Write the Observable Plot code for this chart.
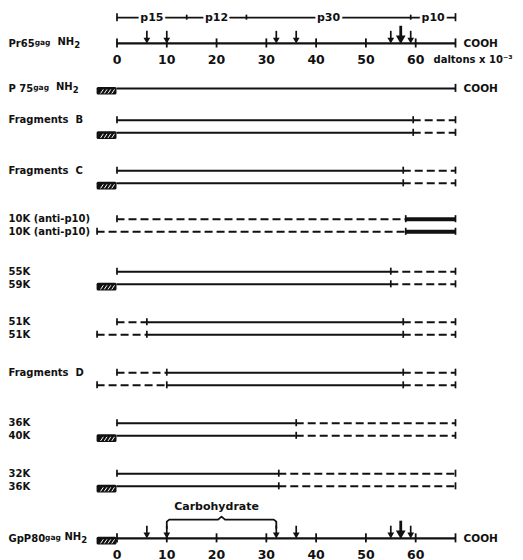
<!DOCTYPE html>
<html><head><meta charset="utf-8">
<script src="https://cdn.jsdelivr.net/npm/d3@7"></script>
<script src="https://cdn.jsdelivr.net/npm/@observablehq/plot@0.6"></script>
<style>
body{margin:0;background:#fff}
svg{display:block}
svg text{white-space:pre}
</style>
</head><body><div id="chart"></div>
<script>
// ---------------- DATA ----------------
const proteinEnd = 68;            // COOH terminus (kDa)
const leaderStart = -4;           // N-terminal leader of glycosylated species
const segmentNames = ["p15", "p12", "p30", "p10"];
const segmentBounds = [0, 14, 26, 59, 68];
const axisTicks = [0, 10, 20, 30, 40, 50, 60];
const axisTickLabels = ["0", "10", "20", "30", "40", "50", "60"];
const cleavageSites = [6, 10, 32, 36, 55, 59];
const majorCleavage = 57;
const carbohydrateRange = [10, 32];

const topLabel = "Pr65^gag^  NH_2_";
const p75Label = "P 75^gag^  NH_2_";
const gp80Label = "GpP80^gag^ NH_2_";
const unitsLabel = "daltons x 10⁻³";
const carbohydrateLabel = "Carbohydrate";
const cterm = "COOH";

const lineLabels = [
  ["Fragments  B", ""],
  ["Fragments  C", ""],
  ["10K (anti-p10)", "10K (anti-p10)"],
  ["55K", "59K"],
  ["51K", "51K"],
  ["Fragments  D", ""],
  ["36K", "40K"],
  ["32K", "36K"]
];
const lineStarts = [[0, 0], [0, 0], [0, -4], [0, 0], [0, -4], [0, -4], [0, 0], [0, 0]];
const hasLeader = [[false, true], [false, true], [false, false], [false, true], [false, false], [false, false], [false, true], [false, true]];
const breakPoints = [[59.5], [57.5], [58], [55], [6, 57.5], [10, 57.5], [36], [32.5]];
const pieceStyles = [
  ["solid", "dashed"], ["solid", "dashed"], ["dashed", "thick"], ["solid", "dashed"],
  ["dashed", "solid", "dashed"], ["dashed", "solid", "dashed"], ["solid", "dashed"], ["solid", "dashed"]
];

// ---------------- LAYOUT (row units) ----------------
const rowSeg = -0.03, rowPr65 = 0.48, rowP75 = 1.37, rowGp80 = 10.28;
const groupRow = g => 2 + g + (g === 2 ? -0.04 : 0);
const pairGap = 0.25;
const labelX = -21.8;

// ---------------- BUILD ----------------
const pieces = [], ticks = [], boxes = [], labels = [];
lineLabels.forEach((pair, g) => {
  [0, 1].forEach(k => {
    const y = groupRow(g) + k * pairGap;
    const bounds = [lineStarts[g][k], ...breakPoints[g], proteinEnd];
    pieceStyles[g].forEach((style, i) => pieces.push({x1: bounds[i], x2: bounds[i + 1], y, style}));
    bounds.forEach((b, i) => { if (!(i === 0 && hasLeader[g][k])) ticks.push({x: b, y}); });
    if (hasLeader[g][k]) boxes.push({y});
    if (pair[k]) labels.push({text: pair[k], y});
  });
});
boxes.push({y: rowP75}, {y: rowGp80});
labels.push({text: topLabel, y: rowPr65}, {text: p75Label, y: rowP75}, {text: gp80Label, y: rowGp80});

const axes = [rowPr65, rowGp80];
const axisTickData = axes.flatMap(y => [...axisTicks, proteinEnd].map(x => ({x, y})));
const tickLabelData = axes.flatMap(y => axisTicks.map((x, i) => ({x, y, t: axisTickLabels[i]})));
const arrowData = axes.flatMap(y => cleavageSites.map(x => ({x, y})));
const bigArrowData = axes.map(y => ({x: majorCleavage, y}));
const hatch = boxes.flatMap(b => [0, 1, 2, 3].map(i => ({x1: -3.3 + i * 0.75, x2: -2.75 + i * 0.75, y: b.y})));
const segTicks = segmentBounds.map((x, i) => ({x, end: i === 0 || i === segmentBounds.length - 1}));
const segLabels = segmentNames.map((t, i) => ({t, x: (segmentBounds[i] + segmentBounds[i + 1]) / 2}));

// carbohydrate brace path
const [c0, c1] = carbohydrateRange, cm = (c0 + c1) / 2;
const bTop = rowGp80 - 0.37, legBot = rowGp80 - 0.2;
const brace = [
  {x: c0, y: legBot}, {x: c0, y: bTop + 0.04}, {x: c0 + 0.5, y: bTop}, {x: cm - 0.7, y: bTop},
  {x: cm, y: bTop - 0.06}, {x: cm + 0.7, y: bTop}, {x: c1 - 0.5, y: bTop}, {x: c1, y: bTop + 0.04}, {x: c1, y: legBot}
];

const ink = "#111";
const font = {fontFamily: "'DejaVu Sans', sans-serif", fontWeight: "bold"};

const chart = Plot.plot({
  width: 523, height: 560,
  margin: 0,
  x: {domain: [0, proteinEnd], range: [116.5, 455], axis: null},
  y: {domain: [0, 10], range: [18.7, 523.7], axis: null},
  style: {background: "#fff", fontFamily: "'DejaVu Sans', sans-serif"},
  marks: [
    // segment bracket row
    Plot.ruleY([rowSeg], {x1: 0, x2: proteinEnd, stroke: ink, strokeWidth: 1.7}),
    Plot.ruleX(segTicks, {x: "x", y1: d => rowSeg - (d.end ? 0.08 : 0.05), y2: d => rowSeg + (d.end ? 0.08 : 0.05), stroke: ink, strokeWidth: 1.7}),
    Plot.text(segLabels, {x: "x", y: rowSeg, text: "t", fill: ink, stroke: "white", strokeWidth: 5, fontSize: 11, ...font}),

    // axes (Pr65 & GpP80) and P75
    Plot.ruleY(axes, {x1: 0, x2: proteinEnd, stroke: ink, strokeWidth: 2.2}),
    Plot.ruleY([rowP75], {x1: 0, x2: proteinEnd, stroke: ink, strokeWidth: 2}),
    Plot.ruleX([proteinEnd], {y1: rowP75 - 0.08, y2: rowP75 + 0.08, stroke: ink, strokeWidth: 1.8}),
    Plot.ruleX(axisTickData, {x: "x", y1: d => d.y - 0.09, y2: d => d.y + 0.09, stroke: ink, strokeWidth: 1.8}),
    Plot.text(tickLabelData, {x: "x", y: d => d.y + 0.32, text: "t", fill: ink, fontSize: 12.5, ...font}),
    Plot.text([unitsLabel], {x: proteinEnd, y: rowPr65 + 0.32, dx: -22, text: d => d, textAnchor: "start", fill: ink, fontSize: 10, ...font}),

    // cleavage arrows
    Plot.ruleX(arrowData, {x: "x", y1: d => d.y - 0.24, y2: d => d.y - 0.08, stroke: ink, strokeWidth: 1.7}),
    Plot.dot(arrowData, {x: "x", y: d => d.y - 0.075, symbol: "triangle", rotate: 180, r: 2.5, fill: ink}),
    Plot.ruleX(bigArrowData, {x: "x", y1: d => d.y - 0.34, y2: d => d.y - 0.12, stroke: ink, strokeWidth: 2.8}),
    Plot.dot(bigArrowData, {x: "x", y: d => d.y - 0.1, symbol: "triangle", rotate: 180, r: 3.6, fill: ink}),

    // carbohydrate brace
    Plot.line(brace, {x: "x", y: "y", stroke: ink, strokeWidth: 1.8, curve: "linear"}),
    Plot.text([carbohydrateLabel], {x: cm - 1, y: bTop - 0.26, text: d => d, fill: ink, fontSize: 11, ...font}),

    // fragment lines
    Plot.ruleY(pieces.filter(d => d.style === "solid"), {x1: "x1", x2: "x2", y: "y", stroke: ink, strokeWidth: 2}),
    Plot.ruleY(pieces.filter(d => d.style === "dashed"), {x1: "x1", x2: "x2", y: "y", stroke: ink, strokeWidth: 2, strokeDasharray: "8,4"}),
    Plot.ruleY(pieces.filter(d => d.style === "thick"), {x1: "x1", x2: "x2", y: "y", stroke: ink, strokeWidth: 4}),
    Plot.ruleX(ticks, {x: "x", y1: d => d.y - 0.07, y2: d => d.y + 0.07, stroke: ink, strokeWidth: 1.7}),

    // leader boxes
    Plot.rect(boxes, {x1: leaderStart, x2: 0, y1: d => d.y - 0.02, y2: d => d.y + 0.13, fill: ink, rx: 1.5}),
    Plot.link(hatch, {x1: "x1", x2: "x2", y1: d => d.y + 0.1, y2: d => d.y + 0.02, stroke: "white", strokeWidth: 1}),

    // labels
    Plot.text(labels, {x: labelX, y: "y", text: "text", textAnchor: "start", fill: ink, fontSize: 10, ...font}),
    Plot.text([rowPr65, rowP75, rowGp80], {x: proteinEnd, y: d => d, dx: 8, text: () => cterm, textAnchor: "start", fill: ink, fontSize: 10.5, ...font})
  ]
});

// rich text: ^sup^ and _sub_
d3.select(chart).selectAll("text").each(function () {
  const el = d3.select(this);
  const s = el.text();
  if (!/[\^_]/.test(s)) return;
  el.text(null);
  s.split(/(\^[^^]*\^|_[^_]*_)/).filter(p => p).forEach(p => {
    if (p[0] === "^") {
      el.append("tspan").attr("dy", -2).attr("font-size", 7.5).text(p.slice(1, -1));
      el.append("tspan").attr("dy", 2).text("");
    } else if (p[0] === "_") {
      el.append("tspan").attr("dy", 3).attr("font-size", 8.5).text(p.slice(1, -1));
      el.append("tspan").attr("dy", -3).text("");
    } else {
      el.append("tspan").text(p);
    }
  });
});

document.getElementById("chart").append(chart);
</script>
</body></html>
